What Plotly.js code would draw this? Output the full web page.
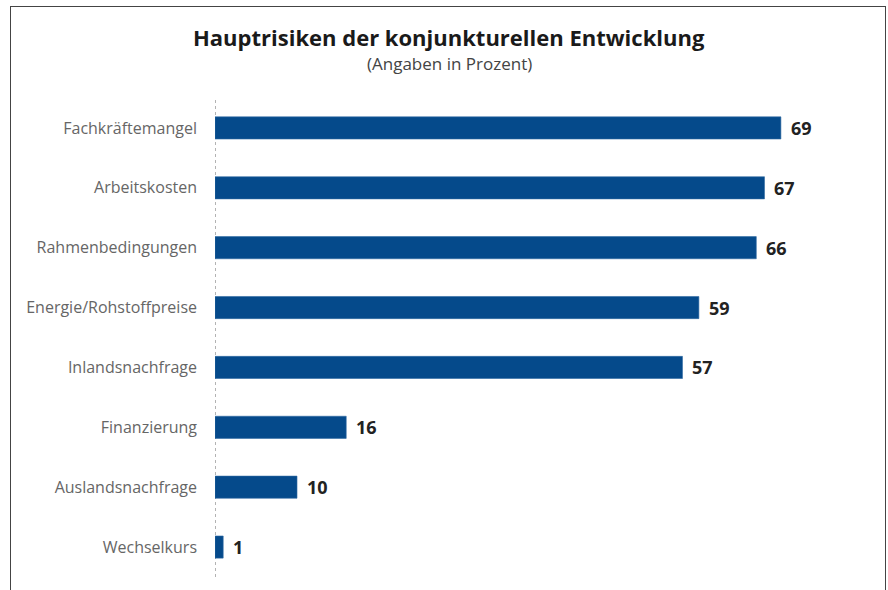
<!DOCTYPE html>
<html>
<head>
<meta charset="utf-8">
<script src="https://cdn.plot.ly/plotly-3.0.1.min.js"></script>
<style>
  html, body { margin: 0; padding: 0; background: #fff; }
  #wrap { position: relative; width: 888px; height: 590px; overflow: hidden; }
  #chart { position: absolute; left: 0; top: 0; width: 888px; height: 590px; }
  #frame { position: absolute; left: 10px; top: 6px; width: 876px; height: 600px;
           border: 1px solid #444; pointer-events: none; box-sizing: border-box; }
</style>
</head>
<body>
<div id="wrap">
  <div id="chart"></div>
  <div id="frame"></div>
</div>
<script>
const categories = [
  "Fachkräftemangel",
  "Arbeitskosten",
  "Rahmenbedingungen",
  "Energie/Rohstoffpreise",
  "Inlandsnachfrage",
  "Finanzierung",
  "Auslandsnachfrage",
  "Wechselkurs"
];
const values = [69, 67, 66, 59, 57, 16, 10, 1];
const valueLabels = ["69", "67", "66", "59", "57", "16", "10", "1"];

const chartTitle = "Hauptrisiken der konjunkturellen Entwicklung";
const chartSubtitle = "(Angaben in Prozent)";

const trace = {
  type: "bar",
  orientation: "h",
  y: categories,
  x: values,
  marker: { color: "#054a8b", line: { color: "#2f6aa3", width: 0.6 } },
  hoverinfo: "none"
};

const annotations = values.map((v, i) => ({
  x: v, y: categories[i], xref: "x", yref: "y",
  text: "<b>" + valueLabels[i] + "</b>",
  showarrow: false, xanchor: "left", yanchor: "middle", xshift: 8,
  font: { family: "Open Sans, sans-serif", size: 18, color: "#222" }
}));

const titleX = (449 - 215) / (888 - 215 - 62);

annotations.push({
  xref: "paper", yref: "paper", x: titleX, y: 1,
  xanchor: "center", yanchor: "bottom",
  text: "<b>" + chartTitle + "</b>",
  showarrow: false,
  font: { family: "Open Sans, sans-serif", size: 22, color: "#1a1a1a" },
  yshift: 44
});
annotations.push({
  xref: "paper", yref: "paper", x: titleX, y: 1,
  xanchor: "center", yanchor: "bottom",
  text: chartSubtitle,
  showarrow: false,
  font: { family: "Open Sans, sans-serif", size: 17, color: "#444" },
  yshift: 21
});

const layout = {
  width: 888, height: 590,
  margin: { l: 215, r: 62, t: 98, b: 13 },
  paper_bgcolor: "#fff", plot_bgcolor: "#fff",
  showlegend: false,
  bargap: 0.63,
  xaxis: {
    range: [0, 74.5], showgrid: false, zeroline: false,
    showticklabels: false, showline: false, ticks: "", fixedrange: true
  },
  yaxis: {
    autorange: "reversed", showgrid: false, zeroline: false, showline: false,
    ticks: "", ticklabelstandoff: 17,
    tickfont: { family: "Open Sans, sans-serif", size: 16, color: "#666" },
    fixedrange: true
  },
  shapes: [{
    type: "line", xref: "x", yref: "paper", x0: 0, x1: 0, y0: 0, y1: 1,
    line: { color: "#9a9a9a", width: 1.5, dash: "dot" }, layer: "below"
  }],
  annotations: annotations
};

Plotly.newPlot("chart", [trace], layout, { displayModeBar: false, staticPlot: true });
</script>
</body>
</html>
